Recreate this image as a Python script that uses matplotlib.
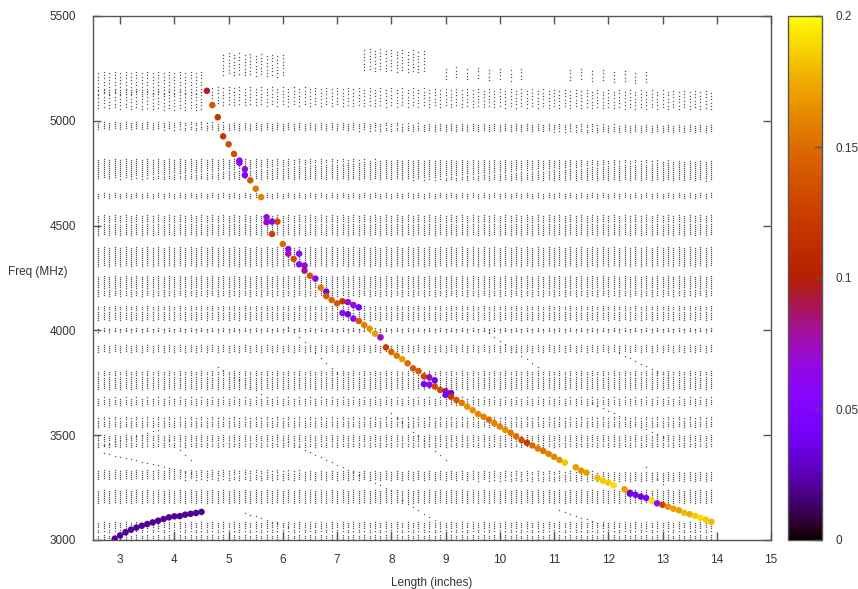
import numpy as np
import matplotlib
matplotlib.use("Agg")
import matplotlib.pyplot as plt
from matplotlib.ticker import FixedLocator

# ---------------- data ----------------
# resonance sweep: coloured points (length in inches, frequency MHz, coupling value)
main_len = [4.6, 4.7, 4.8, 4.9, 5.0, 5.1, 5.2, 5.2, 5.3, 5.3, 5.4, 5.5, 5.6,
            5.7, 5.7, 5.8, 5.9, 5.8, 6.0, 6.1, 6.1, 6.3, 6.2, 6.3, 6.4, 6.4,
            6.5, 6.6, 6.7, 6.8, 6.8, 6.9, 7.0, 7.1, 7.2, 7.3, 7.4, 7.1, 7.2,
            7.3, 7.4, 7.5, 7.6, 7.7, 7.8, 7.9, 8.0, 8.1, 8.2, 8.3, 8.4, 8.5,
            8.6, 8.7, 8.8, 8.6, 8.7, 8.8, 8.9, 9.0, 9.1, 9.0, 9.1, 9.2, 9.3,
            9.4, 9.5, 9.6, 9.7, 9.8, 9.9, 10.0, 10.1, 10.2, 10.3, 10.4, 10.5,
            10.6, 10.7, 10.8, 10.9, 11.0, 11.1, 11.2, 11.4, 11.5, 11.6, 11.8,
            11.9, 12.0, 12.1, 12.3, 12.4, 12.4, 12.5, 12.6, 12.7, 12.8, 12.9,
            13.0, 13.1, 13.2, 13.3, 13.4, 13.5, 13.6, 13.7, 13.8, 13.9]
main_freq = [5143, 5075, 5017, 4926, 4888, 4842, 4810, 4800, 4769, 4741, 4716,
             4676, 4636, 4540, 4516, 4519, 4519, 4460, 4412, 4388, 4366, 4366,
             4341, 4315, 4309, 4285, 4261, 4247, 4204, 4185, 4164, 4145, 4129,
             4139, 4135, 4121, 4110, 4083, 4077, 4056, 4045, 4026, 4008, 3984,
             3967, 3919, 3897, 3879, 3863, 3843, 3819, 3806, 3781, 3776, 3762,
             3744, 3741, 3733, 3716, 3710, 3701, 3692, 3684, 3668, 3654, 3636,
             3619, 3601, 3588, 3574, 3557, 3541, 3525, 3512, 3495, 3477, 3464,
             3451, 3437, 3425, 3411, 3397, 3382, 3369, 3347, 3331, 3321, 3296,
             3283, 3273, 3261, 3242, 3226, 3221, 3216, 3207, 3200, 3188, 3175,
             3168, 3159, 3149, 3142, 3130, 3123, 3115, 3106, 3097, 3087]
main_val = [0.095, 0.14, 0.12, 0.12, 0.135, 0.135, 0.06, 0.06, 0.065, 0.045,
            0.14, 0.155, 0.16, 0.065, 0.075, 0.05, 0.13, 0.125, 0.15, 0.06,
            0.075, 0.055, 0.135, 0.065, 0.065, 0.08, 0.14, 0.06, 0.155, 0.035,
            0.14, 0.145, 0.14, 0.115, 0.07, 0.065, 0.04, 0.065, 0.035, 0.06,
            0.14, 0.16, 0.165, 0.17, 0.07, 0.125, 0.145, 0.155, 0.17, 0.15,
            0.14, 0.14, 0.13, 0.075, 0.04, 0.045, 0.06, 0.13, 0.135, 0.08,
            0.035, 0.04, 0.12, 0.14, 0.155, 0.165, 0.165, 0.16, 0.16, 0.15,
            0.16, 0.16, 0.165, 0.155, 0.15, 0.135, 0.12, 0.15, 0.155, 0.155,
            0.16, 0.16, 0.165, 0.185, 0.17, 0.165, 0.17, 0.18, 0.185, 0.185,
            0.19, 0.17, 0.12, 0.035, 0.04, 0.035, 0.045, 0.19, 0.065, 0.125,
            0.165, 0.17, 0.17, 0.18, 0.175, 0.185, 0.19, 0.185, 0.18]

low_len = [2.9, 3.0, 3.1, 3.2, 3.3, 3.4, 3.5, 3.6, 3.7, 3.8, 3.9, 4.0, 4.1,
           4.2, 4.3, 4.4, 4.5]
low_freq = [3006, 3022, 3037, 3049, 3059, 3068, 3076, 3084, 3092, 3100, 3108,
            3113, 3114, 3121, 3125, 3129, 3134]
low_val = [0.02] * 17

# background mode bands: start/end length, centre freq at start/end,
# half-width (MHz), spacing of modes inside the band (MHz), column step (inches)
band_x0 = [2.6, 4.9, 7.5, 9.0, 11.3, 2.6, 4.7, 2.6, 2.6, 2.6, 2.6, 2.6, 2.6,
           2.6, 2.6, 2.6, 2.6, 2.6, 2.6, 2.6, 2.6, 2.6, 2.6, 2.6]
band_x1 = [4.5, 6.0, 8.6, 10.5, 12.8, 4.5, 13.9, 13.9, 13.9, 13.9, 13.9, 13.9,
           13.9, 13.9, 13.9, 13.9, 13.9, 13.9, 13.9, 13.9, 13.9, 13.9, 13.9, 13.9]
band_f0 = [5180, 5270, 5290, 5230, 5220, 5100, 5120, 4975, 4770, 4640, 4500,
           4350, 4210, 4080, 4000, 3910, 3760, 3660, 3560, 3470, 3310, 3205,
           3060, 3012]
band_f1 = [5180, 5260, 5280, 5220, 5200, 5090, 5100, 4960, 4760, 4640, 4500,
           4350, 4210, 4080, 4000, 3910, 3760, 3660, 3560, 3470, 3300, 3205,
           3060, 3012]
band_half = [50, 50, 50, 30, 25, 40, 45, 15, 45, 10, 45, 45, 45, 30, 8, 15, 40,
             15, 20, 25, 20, 30, 20, 10]
band_step = [16, 16, 16, 16, 16, 16, 16, 10, 10, 10, 10, 10, 10, 10, 8, 10, 10,
             10, 10, 10, 10, 10, 10, 8]
band_col = [0.1, 0.1, 0.1, 0.2, 0.2, 0.1, 0.1, 0.1, 0.1, 0.1, 0.1, 0.1, 0.1,
            0.1, 0.1, 0.1, 0.1, 0.1, 0.1, 0.1, 0.1, 0.1, 0.1, 0.1]

# single diagonal mode traces (start/end length and frequency)
diag_x0 = [2.6, 2.7, 3.9, 4.8, 5.9, 6.1, 5.3, 8.0, 8.2, 9.8, 11.1, 11.7, 12.2, 12.7]
diag_x1 = [3.7, 4.3, 4.3, 5.7, 8.0, 7.0, 6.1, 9.0, 9.0, 10.7, 12.0, 13.0, 13.1, 13.1]
diag_f0 = [3445, 3415, 3477, 3825, 3491, 4016, 3129, 3606, 3190, 3988, 3143, 3654, 3892, 3348]
diag_f1 = [3525, 3320, 3382, 3682, 3238, 3797, 3062, 3382, 3062, 3825, 3062, 3491, 3778, 3238]

xticks = [3, 4, 5, 6, 7, 8, 9, 10, 11, 12, 13, 14, 15]
yticks = [3000, 3500, 4000, 4500, 5000, 5500]
cticks = [0, 0.05, 0.1, 0.15, 0.2]
cticklabels = ["0", "0.05", "0.1", "0.15", "0.2"]

# ---------------- plot ----------------
plt.rcParams['font.family'] = ['Liberation Sans', 'DejaVu Sans']
fig = plt.figure(figsize=(8.58, 5.89), dpi=100)
W, H = 858, 589
ax = fig.add_axes([93 / W, (H - 540) / H, 678 / W, 524 / H])
cax = fig.add_axes([788 / W, (H - 540) / H, 34 / W, 524 / H])

bx, by = [], []
for x0, x1, f0, f1, hw, st, cs in zip(band_x0, band_x1, band_f0, band_f1,
                                       band_half, band_step, band_col):
    cols = np.arange(x0, x1 + 1e-6, cs)
    offs = np.arange(-hw, hw + 1e-6, st)
    for k, c in enumerate(cols):
        fc = f0 + (f1 - f0) * (c - x0) / max(x1 - x0, 1e-9)
        shift = (st / 2.0) * (k % 2)
        for o in offs:
            bx.append(c)
            by.append(fc + o + shift)
for x0, x1, f0, f1 in zip(diag_x0, diag_x1, diag_f0, diag_f1):
    cols = np.arange(x0, x1 + 1e-6, 0.1)
    for c in cols:
        bx.append(c)
        by.append(f0 + (f1 - f0) * (c - x0) / (x1 - x0))
ax.plot(bx, by, linestyle='none', marker='s', ms=0.9, mew=0, color='#555555',
        zorder=1)

cmap = plt.get_cmap('gnuplot')
norm = matplotlib.colors.Normalize(0, 0.2)
ax.scatter(low_len, low_freq, c=low_val, cmap=cmap, norm=norm, s=22,
           linewidths=0, zorder=3)
sc = ax.scatter(main_len, main_freq, c=main_val, cmap=cmap, norm=norm, s=22,
                linewidths=0, zorder=3)

ax.set_xlim(2.5, 15)
ax.set_ylim(3000, 5500)
ax.xaxis.set_major_locator(FixedLocator(xticks))
ax.yaxis.set_major_locator(FixedLocator(yticks))
ax.tick_params(direction='in', top=True, right=True, length=6, width=1,
               color='#555555', labelsize=8.5, labelcolor='#333333')
ax.tick_params(axis='x', pad=10)
ax.tick_params(axis='y', pad=12)
for s in ax.spines.values():
    s.set_color('#555555')
    s.set_linewidth(1)
ax.set_xlabel('Length (inches)', fontsize=8.5, color='#333333', labelpad=8)
ax.set_ylabel('Freq (MHz)', fontsize=8.5, color='#333333', rotation=0)
ax.yaxis.set_label_coords(-0.082, 0.5)
ax.yaxis.label.set_horizontalalignment('center')

cb = fig.colorbar(sc, cax=cax)
cb.set_ticks(cticks)
cb.set_ticklabels(cticklabels)
cb.ax.tick_params(direction='in', length=6, width=1, color='#555555',
                  labelsize=8.5, labelcolor='#333333', pad=10)
cb.outline.set_edgecolor('#555555')
cb.outline.set_linewidth(1)

fig.savefig('out.png', dpi=100)
